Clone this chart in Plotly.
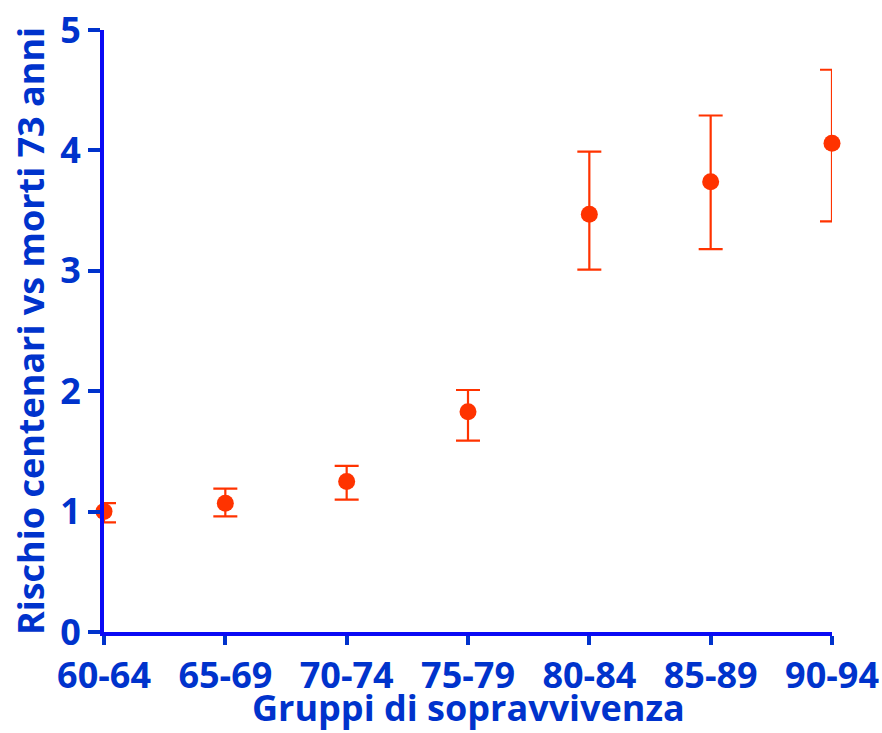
import plotly.graph_objects as go

groups = ["60-64", "65-69", "70-74", "75-79", "80-84", "85-89", "90-94"]
risk = [1.00, 1.07, 1.25, 1.83, 3.47, 3.74, 4.06]
upper = [1.07, 1.19, 1.38, 2.01, 3.99, 4.29, 4.67]
lower = [0.91, 0.96, 1.10, 1.59, 3.01, 3.18, 3.41]

x_title = "Gruppi di sopravvivenza"
y_title = "Rischio centenari vs morti 73 anni"

err_plus = [u - r for u, r in zip(upper, risk)]
err_minus = [r - l for r, l in zip(risk, lower)]

RED = "#FF3300"
BLUE_LINE = "#0A0AF5"
BLUE_TEXT = "#0033CC"
FONT = "Open Sans"
FS = 36
W = 700

fig = go.Figure()
fig.add_trace(go.Scatter(
    x=list(range(len(groups))), y=risk, mode="markers",
    marker=dict(color=RED, size=17),
    error_y=dict(type="data", symmetric=False, array=err_plus, arrayminus=err_minus,
                 color=RED, thickness=2.2, width=12),
    cliponaxis=False, showlegend=False,
))

fig.update_layout(
    width=882, height=733,
    margin=dict(l=104, r=50, t=30, b=101),
    plot_bgcolor="white", paper_bgcolor="white",
    font=dict(family=FONT, color=BLUE_TEXT, size=FS, weight=W),
)
fig.update_xaxes(
    range=[0, 6], tickmode="array", tickvals=list(range(len(groups))), ticktext=groups,
    showline=True, linecolor=BLUE_LINE, linewidth=4, showgrid=False, zeroline=False,
    ticks="outside", ticklen=9, tickwidth=4, tickcolor=BLUE_TEXT,
    tickfont=dict(size=FS, family=FONT, color=BLUE_TEXT, weight=W),
    automargin=False,
)
fig.update_yaxes(
    range=[0, 5], tickvals=[0, 1, 2, 3, 4, 5],
    showline=True, linecolor=BLUE_LINE, linewidth=4, showgrid=False, zeroline=False,
    ticks="outside", ticklen=12, tickwidth=4, tickcolor=BLUE_TEXT,
    tickfont=dict(size=FS, family=FONT, color=BLUE_TEXT, weight=W),
    title=dict(text=y_title, standoff=6,
               font=dict(size=FS, family=FONT, color=BLUE_TEXT, weight=W)),
    automargin=False,
)
fig.add_annotation(
    text=x_title, xref="paper", yref="paper", x=0.5, y=-101 / 602,
    xanchor="center", yanchor="bottom", showarrow=False, borderpad=0,
    font=dict(size=FS, family=FONT, color=BLUE_TEXT, weight=W),
)

fig.write_html("out.html")
